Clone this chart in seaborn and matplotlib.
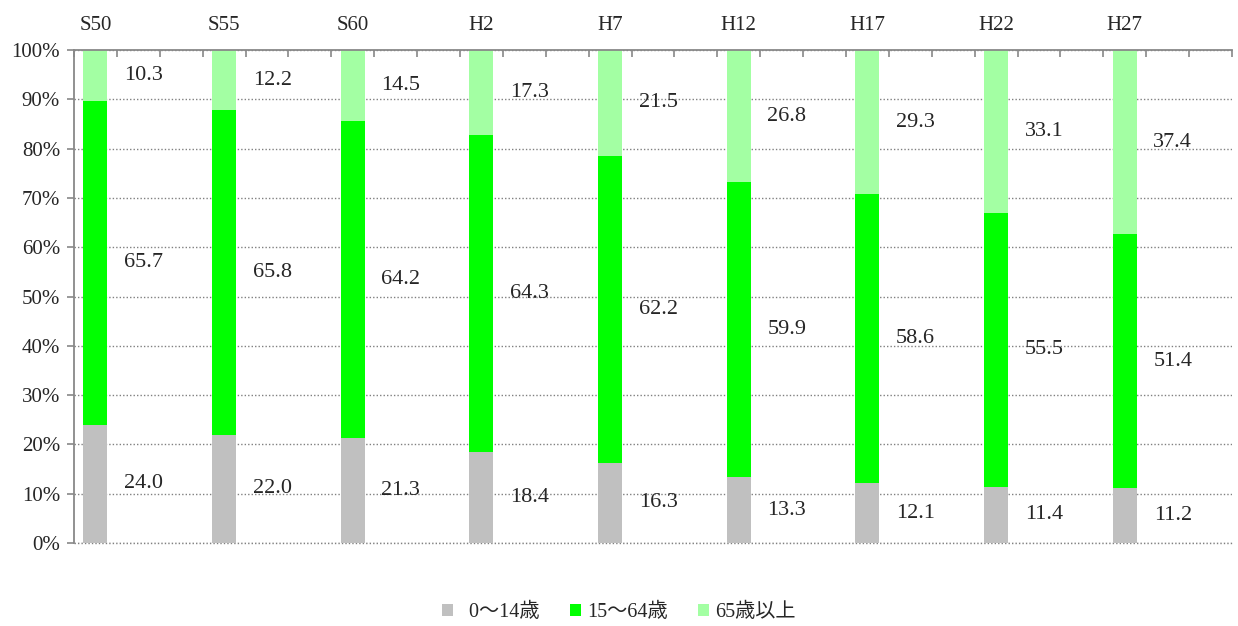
import numpy as np
import pandas as pd
import matplotlib
matplotlib.use('Agg')
import matplotlib.pyplot as plt
from matplotlib.patches import Patch
import seaborn as sns

# population share by age group (%)
years = ['S50', 'S55', 'S60', 'H2', 'H7', 'H12', 'H17', 'H22', 'H27']
young = [24.0, 22.0, 21.3, 18.4, 16.3, 13.3, 12.1, 11.4, 11.2]
working = [65.7, 65.8, 64.2, 64.3, 62.2, 59.9, 58.6, 55.5, 51.4]
elderly = [10.3, 12.2, 14.5, 17.3, 21.5, 26.8, 29.3, 33.1, 37.4]
group_names = ['  0〜14歳', '15〜64歳', '65歳以上']
colors = ['#C0C0C0', '#00FF00', '#A3FFA3']

sns.set_style('white')
plt.rcParams['font.family'] = ['Liberation Serif', 'Noto Sans CJK JP', 'DejaVu Sans']

# each year takes 3 slots on the axis: bar, label, gap
pos = np.arange(len(years)) * 3 + 0.5
df = pd.DataFrame({'pos': pos,
                   'young': young,
                   'cum2': np.array(young) + np.array(working),
                   'total': np.array(young) + np.array(working) + np.array(elderly)})

fig = plt.figure(figsize=(12.38, 6.26), dpi=100)
ax = fig.add_axes([74 / 1238, 83 / 626, 1158 / 1238, 493 / 626])

w = 0.56 / 3
sns.barplot(data=df, x='pos', y='total', native_scale=True, width=w, color=colors[2],
            saturation=1, errorbar=None, linewidth=0, ax=ax)
sns.barplot(data=df, x='pos', y='cum2', native_scale=True, width=w, color=colors[1],
            saturation=1, errorbar=None, linewidth=0, ax=ax)
sns.barplot(data=df, x='pos', y='young', native_scale=True, width=w, color=colors[0],
            saturation=1, errorbar=None, linewidth=0, ax=ax)

# value labels beside each bar, at the middle of each segment
fs = 16
for i in range(len(years)):
    lx = i * 3 + 1.62
    ax.text(lx, young[i] / 2, f'{young[i]:.1f}', ha='center', va='center', fontsize=fs)
    ax.text(lx, young[i] + working[i] / 2, f'{working[i]:.1f}', ha='center', va='center', fontsize=fs)
    ax.text(lx, 100 - elderly[i] / 2, f'{elderly[i]:.1f}', ha='center', va='center', fontsize=fs)

ax.set_xlim(0, len(years) * 3)
ax.set_ylim(0, 100)
ax.set_xlabel('')
ax.set_ylabel('')

ax.set_yticks(np.arange(0, 101, 10))
ax.set_yticklabels([f'{v}%' for v in range(0, 101, 10)], fontsize=15)
ax.tick_params(axis='y', direction='out', length=5, width=1.2, color='#888888', pad=5, left=True)

ax.set_xticks(np.arange(0, len(years) * 3 + 1))
ax.set_xticks(pos, minor=True)
ax.set_xticklabels([], minor=False)
ax.set_xticklabels(years, minor=True, fontsize=15)
ax.tick_params(axis='x', which='major', top=True, bottom=False, direction='in', length=5,
               width=1.2, color='#888888', labeltop=False, labelbottom=False)
ax.tick_params(axis='x', which='minor', top=True, bottom=False, length=0, labeltop=True,
               labelbottom=False, pad=11)

ax.set_axisbelow(True)
ax.yaxis.grid(True, linestyle=(0, (1, 1.5)), color='#808080', linewidth=1)
ax.xaxis.grid(False)
ax.axhline(0, linestyle=(0, (1, 1.5)), color='#808080', linewidth=1, clip_on=False, zorder=0.5)
for s in ['right', 'bottom']:
    ax.spines[s].set_visible(False)
for s in ['top', 'left']:
    ax.spines[s].set_color('#888888')
    ax.spines[s].set_linewidth(1.3)

handles = [Patch(facecolor=c, edgecolor='none') for c in colors]
fig.legend(handles, group_names, loc='center', bbox_to_anchor=(0.5, 0.022), ncol=3,
           frameon=False, handlelength=0.55, handleheight=0.55,
           handletextpad=0.3, columnspacing=1.5,
           prop={'family': ['Liberation Serif', 'Noto Sans CJK JP'], 'size': 14.5})

fig.savefig('out.png', dpi=100)
